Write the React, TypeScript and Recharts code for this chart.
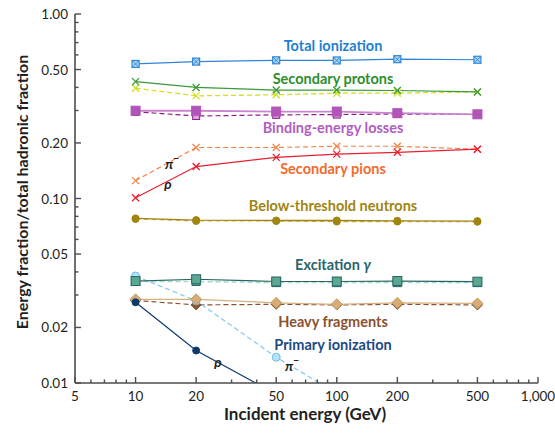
import React from 'react';
import { LineChart, Line, XAxis, YAxis } from 'recharts';

// incident energies (GeV)
const energies = [10, 20, 50, 100, 200, 500];

// energy fractions, ρ = solid, π⁻ = dashed
const totalIonization = [0.536, 0.552, 0.561, 0.56, 0.569, 0.565];
const protonsRho = [0.43, 0.4, 0.387, 0.387, 0.385, 0.378];
const protonsPi = [0.396, 0.36, 0.365, 0.372, 0.373, 0.378];
const bindingRho = [0.299, 0.299, 0.296, 0.296, 0.29, 0.286];
const bindingPi = [0.295, 0.28, 0.284, 0.285, 0.287, 0.286];
const pionsRho = [0.101, 0.149, 0.167, 0.174, 0.178, 0.185];
const pionsPi = [0.125, 0.189, 0.189, 0.192, 0.192, 0.185];
const neutronsRho = [0.078, 0.0764, 0.076, 0.076, 0.0757, 0.0754];
const neutronsPi = [0.0775, 0.0755, 0.0755, 0.075, 0.075, 0.0748];
const excitationRho = [0.0357, 0.0365, 0.0355, 0.0355, 0.0357, 0.0354];
const excitationPi = [0.0355, 0.0355, 0.035, 0.035, 0.035, 0.035];
const heavyRho = [0.0284, 0.0284, 0.0272, 0.0267, 0.0272, 0.027];
const heavyPi = [0.028, 0.0265, 0.0267, 0.0265, 0.0267, 0.0265];
const primaryRho = [0.0274, 0.015, 0.0087, null, null, null];
const primaryPi = [0.038, 0.0279, 0.0138, 0.0088, null, null];

const xTicks = [5, 6, 7, 8, 9, 10, 20, 30, 40, 50, 60, 70, 80, 90, 100, 200, 300, 400, 500, 600, 700, 800, 900, 1000];
const xMajor = [5, 10, 20, 50, 100, 200, 500, 1000];
const xLabels = ['5', '10', '20', '50', '100', '200', '500', '1,000'];
const yTicks = [0.01, 0.02, 0.03, 0.04, 0.05, 0.06, 0.07, 0.08, 0.09, 0.1, 0.2, 0.3, 0.4, 0.5, 0.6, 0.7, 0.8, 0.9, 1];
const yMajor = [0.01, 0.02, 0.05, 0.1, 0.2, 0.5, 1];
const yLabels = ['0.01', '0.02', '0.05', '0.10', '0.20', '0.50', '1.00'];

const FONT = 'Lato, "Open Sans", sans-serif';
const AXIS = '#4d4d4d';
const INK = '#231f20';

const rows = energies.map((e, i) => ({
    energy: e,
    totalIonization: totalIonization[i],
    protonsRho: protonsRho[i],
    protonsPi: protonsPi[i],
    bindingRho: bindingRho[i],
    bindingPi: bindingPi[i],
    pionsRho: pionsRho[i],
    pionsPi: pionsPi[i],
    neutronsRho: neutronsRho[i],
    neutronsPi: neutronsPi[i],
    excitationRho: excitationRho[i],
    excitationPi: excitationPi[i],
    heavyRho: heavyRho[i],
    heavyPi: heavyPi[i],
    primaryRho: primaryRho[i],
    primaryPi: primaryPi[i],
}));

type Marker = 'boxX' | 'x' | 'square' | 'circle' | 'diamond';

function makeDot(kind: Marker, stroke: string, fill: string, size: number) {
    return (props: any) => {
        const { cx, cy, index, value } = props;
        const k = `d-${index}`;
        if (cx == null || cy == null || value == null) return <g key={k} />;
        const h = size / 2;
        switch (kind) {
            case 'boxX':
                return (
                    <g key={k}>
                        <rect x={cx - h} y={cy - h} width={size} height={size} fill={fill} stroke={stroke} strokeWidth={1.2} />
                        <path d={`M${cx - h},${cy - h}L${cx + h},${cy + h}M${cx + h},${cy - h}L${cx - h},${cy + h}`} stroke={stroke} strokeWidth={1} />
                    </g>
                );
            case 'x':
                return (
                    <path key={k} d={`M${cx - h},${cy - h}L${cx + h},${cy + h}M${cx + h},${cy - h}L${cx - h},${cy + h}`} stroke={stroke} strokeWidth={1.3} fill="none" />
                );
            case 'square':
                return <rect key={k} x={cx - h} y={cy - h} width={size} height={size} fill={fill} stroke={stroke} strokeWidth={1} />;
            case 'circle':
                return <circle key={k} cx={cx} cy={cy} r={h} fill={fill} stroke={stroke} strokeWidth={1} />;
            case 'diamond':
                return <path key={k} d={`M${cx},${cy - h}L${cx + h},${cy}L${cx},${cy + h}L${cx - h},${cy}Z`} fill={fill} stroke={stroke} strokeWidth={1} />;
        }
        return <g key={k} />;
    };
}

interface Series {
    key: string;
    stroke: string;
    dashed: boolean;
    width: number;
    marker: Marker;
    markerStroke: string;
    markerFill: string;
    size: number;
}

// dashed (π⁻) first so the solid (ρ) series sit on top
const series: Series[] = [
    { key: 'protonsPi', stroke: '#d2e01e', dashed: true, width: 1.3, marker: 'x', markerStroke: '#d2e01e', markerFill: 'none', size: 7 },
    { key: 'bindingPi', stroke: '#8c1f8c', dashed: true, width: 1.2, marker: 'square', markerStroke: '#8c1f8c', markerFill: '#d9a6d9', size: 7 },
    { key: 'pionsPi', stroke: '#f3864a', dashed: true, width: 1.2, marker: 'x', markerStroke: '#f3864a', markerFill: 'none', size: 7 },
    { key: 'neutronsPi', stroke: '#c9b25a', dashed: true, width: 1.2, marker: 'circle', markerStroke: '#a08510', markerFill: '#a08510', size: 7 },
    { key: 'excitationPi', stroke: '#a8dccb', dashed: true, width: 1.5, marker: 'square', markerStroke: '#2a6468', markerFill: '#5aa88f', size: 8 },
    { key: 'heavyPi', stroke: '#8a5230', dashed: true, width: 1.2, marker: 'diamond', markerStroke: '#7a4a2a', markerFill: '#8a5a35', size: 10 },
    { key: 'primaryPi', stroke: '#86c8ec', dashed: true, width: 1.2, marker: 'circle', markerStroke: '#6cbce6', markerFill: '#b8e3f7', size: 8 },
    { key: 'totalIonization', stroke: '#2f86d6', dashed: false, width: 1.2, marker: 'boxX', markerStroke: '#2f86d6', markerFill: '#b5daf5', size: 7 },
    { key: 'protonsRho', stroke: '#3a9a3a', dashed: false, width: 1.2, marker: 'x', markerStroke: '#3a9a3a', markerFill: 'none', size: 7 },
    { key: 'bindingRho', stroke: '#c985cf', dashed: false, width: 1.8, marker: 'square', markerStroke: '#b055b5', markerFill: '#b355b8', size: 9 },
    { key: 'pionsRho', stroke: '#e6202f', dashed: false, width: 1.2, marker: 'x', markerStroke: '#e6202f', markerFill: 'none', size: 7 },
    { key: 'neutronsRho', stroke: '#a08510', dashed: false, width: 1.3, marker: 'circle', markerStroke: '#a08510', markerFill: '#a08510', size: 7 },
    { key: 'excitationRho', stroke: '#2a6468', dashed: false, width: 1.2, marker: 'square', markerStroke: '#2a6468', markerFill: '#5aa88f', size: 9 },
    { key: 'heavyRho', stroke: '#d7b07e', dashed: false, width: 1.3, marker: 'diamond', markerStroke: '#c49a62', markerFill: '#d7ac76', size: 11 },
    { key: 'primaryRho', stroke: '#0d3a6c', dashed: false, width: 1.2, marker: 'circle', markerStroke: '#0d3a6c', markerFill: '#0d3a6c', size: 7 },
];

const near = (a: number, b: number) => Math.abs(a - b) < 1e-9 * Math.max(1, b) + 1e-12;

function BottomTick(props: any) {
    const { x, y, payload } = props;
    const idx = xMajor.findIndex((m) => near(m, payload.value));
    const len = idx >= 0 ? 6 : 3.5;
    return (
        <g>
            <path d={`M${x},${y}V${y - len}`} stroke={AXIS} strokeWidth={1.4} fill="none" />
            {idx >= 0 && (
                <text x={x} y={y + 13} textAnchor="middle" dominantBaseline="central" fontFamily={FONT} fontSize={13.5} fill={INK}>
                    {xLabels[idx]}
                </text>
            )}
        </g>
    );
}

function TopTick(props: any) {
    const { x, y, payload } = props;
    const major = xMajor.some((m) => near(m, payload.value));
    return <path d={`M${x},${y}V${y + (major ? 6 : 3.5)}`} stroke={AXIS} strokeWidth={1.4} fill="none" />;
}

function LeftTick(props: any) {
    const { x, y, payload } = props;
    const idx = yMajor.findIndex((m) => near(m, payload.value));
    const len = idx >= 0 ? 6 : 3.5;
    return (
        <g>
            <path d={`M${x},${y}H${x + len}`} stroke={AXIS} strokeWidth={1.4} fill="none" />
            {idx >= 0 && (
                <text x={x - 7} y={y} textAnchor="end" dominantBaseline="central" fontFamily={FONT} fontSize={13.5} fill={INK}>
                    {yLabels[idx]}
                </text>
            )}
        </g>
    );
}

function RightTick(props: any) {
    const { x, y, payload } = props;
    const major = yMajor.some((m) => near(m, payload.value));
    return <path d={`M${x},${y}H${x - (major ? 6 : 3.5)}`} stroke={AXIS} strokeWidth={1.4} fill="none" />;
}

const seriesLabels = [
    { text: 'Total ionization', x: 333, y: 45, color: '#1f7fd3' },
    { text: 'Secondary protons', x: 333, y: 78, color: '#2e8f2e' },
    { text: 'Binding-energy losses', x: 333, y: 127, color: '#b25cc2' },
    { text: 'Secondary pions', x: 333, y: 168, color: '#f26a2e' },
    { text: 'Below-threshold neutrons', x: 333, y: 205, color: '#a08510' },
    { text: 'Heavy fragments', x: 333, y: 321, color: '#8a5230' },
    { text: 'Primary ionization', x: 333, y: 344, color: '#1d4a82' },
];

export default function App() {
    return (
        <div style={{ position: 'absolute', left: 0, top: 0, width: 555, height: 434, background: '#fff' }}>
            <LineChart width={555} height={434} data={rows} margin={{ top: 14, right: 17, bottom: 21, left: 15 }}>
                <XAxis
                    dataKey="energy"
                    type="number"
                    scale="log"
                    domain={[5, 1000]}
                    ticks={xTicks}
                    interval={0}
                    height={30}
                    tickSize={0}
                    tickMargin={0}
                    tickLine={false}
                    tick={<BottomTick />}
                    axisLine={{ stroke: AXIS, strokeWidth: 1.6 }}
                    allowDataOverflow
                />
                <XAxis
                    xAxisId="top"
                    orientation="top"
                    dataKey="energy"
                    type="number"
                    scale="log"
                    domain={[5, 1000]}
                    ticks={xTicks}
                    interval={0}
                    height={0}
                    tickSize={0}
                    tickMargin={0}
                    tickLine={false}
                    tick={<TopTick />}
                    axisLine={{ stroke: AXIS, strokeWidth: 1.6 }}
                    allowDataOverflow
                />
                <YAxis
                    type="number"
                    scale="log"
                    domain={[0.01, 1]}
                    ticks={yTicks}
                    interval={0}
                    width={60}
                    tickSize={0}
                    tickMargin={0}
                    tickLine={false}
                    tick={<LeftTick />}
                    axisLine={{ stroke: AXIS, strokeWidth: 1.6 }}
                    allowDataOverflow
                />
                <YAxis
                    yAxisId="right"
                    orientation="right"
                    type="number"
                    scale="log"
                    domain={[0.01, 1]}
                    ticks={yTicks}
                    interval={0}
                    width={0}
                    tickSize={0}
                    tickMargin={0}
                    tickLine={false}
                    tick={<RightTick />}
                    axisLine={{ stroke: AXIS, strokeWidth: 1.6 }}
                    allowDataOverflow
                />
                {series.map((s) => (
                    <Line
                        key={s.key}
                        dataKey={s.key}
                        type="linear"
                        stroke={s.stroke}
                        strokeWidth={s.width}
                        strokeDasharray={s.dashed ? '5 3' : undefined}
                        dot={makeDot(s.marker, s.markerStroke, s.markerFill, s.size)}
                        activeDot={false}
                        isAnimationActive={false}
                        connectNulls={false}
                    />
                ))}
            </LineChart>
            <svg width={555} height={434} style={{ position: 'absolute', left: 0, top: 0, pointerEvents: 'none' }}>
                {seriesLabels.map((l) => (
                    <text key={l.text} x={l.x} y={l.y} textAnchor="middle" dominantBaseline="central" fontFamily={FONT} fontWeight="bold" fontSize={14.5} fill={l.color}>
                        {l.text}
                    </text>
                ))}
                <text x={333} y={264} textAnchor="middle" dominantBaseline="central" fontFamily={FONT} fontWeight="bold" fontSize={14.5} fill="#2a6468">
                    Excitation <tspan fontStyle="italic">γ</tspan>
                </text>
                <text x={172} y={163} textAnchor="middle" dominantBaseline="central" fontFamily={FONT} fontWeight="bold" fontStyle="italic" fontSize={14} fill={INK}>
                    π<tspan fontSize={10} dy={-5}>−</tspan>
                </text>
                <text x={168} y={183} textAnchor="middle" dominantBaseline="central" fontFamily={FONT} fontWeight="bold" fontStyle="italic" fontSize={14} fill={INK}>
                    ρ
                </text>
                <text x={218} y={361} textAnchor="middle" dominantBaseline="central" fontFamily={FONT} fontWeight="bold" fontStyle="italic" fontSize={14} fill={INK}>
                    ρ
                </text>
                <text x={292} y={365} textAnchor="middle" dominantBaseline="central" fontFamily={FONT} fontWeight="bold" fontStyle="italic" fontSize={14} fill={INK}>
                    π<tspan fontSize={10} dy={-5}>−</tspan>
                </text>
                <text x={305} y={413} textAnchor="middle" dominantBaseline="central" fontFamily={FONT} fontWeight="bold" fontSize={17} fill={INK}>
                    Incident energy (GeV)
                </text>
                <text x={21} y={192} transform="rotate(-90 21 192)" textAnchor="middle" dominantBaseline="central" fontFamily={FONT} fontWeight="bold" fontSize={16} fill={INK}>
                    Energy fraction/total hadronic fraction
                </text>
            </svg>
        </div>
    );
}
